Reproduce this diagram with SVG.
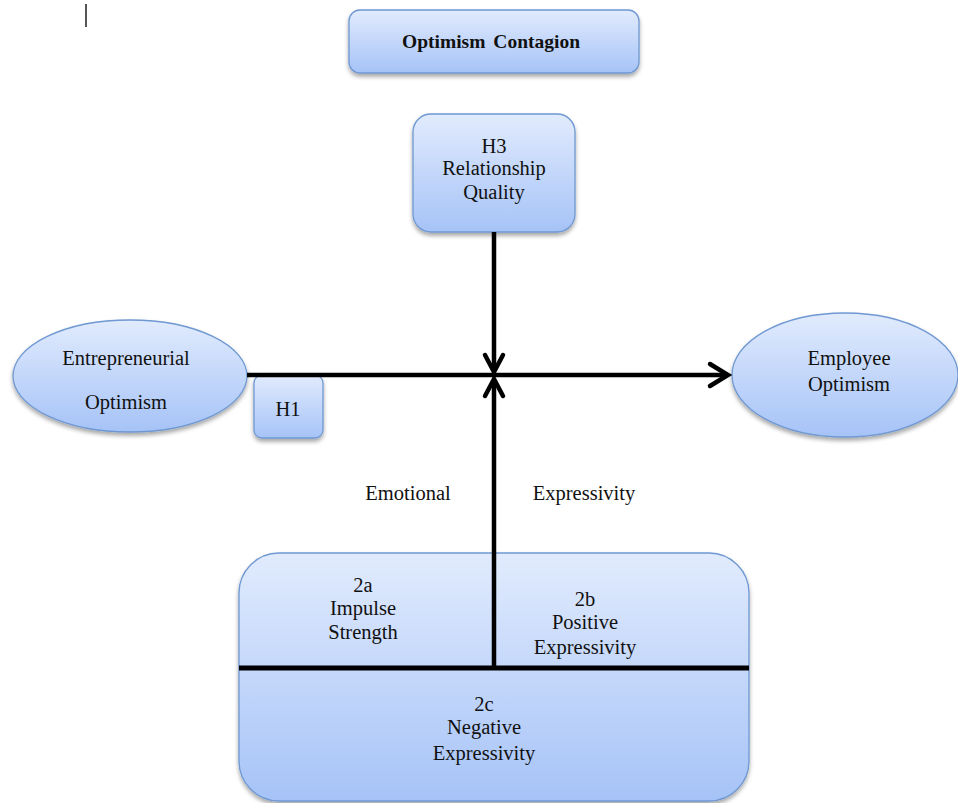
<svg xmlns="http://www.w3.org/2000/svg" width="958" height="803" viewBox="0 0 958 803">
<defs>
<linearGradient id="g" x1="0" y1="0" x2="0" y2="1">
<stop offset="0" stop-color="#e1ebfd"/>
<stop offset="1" stop-color="#a6c3f7"/>
</linearGradient>
<filter id="sh" x="-10%" y="-10%" width="120%" height="130%">
<feDropShadow dx="0" dy="3" stdDeviation="2" flood-color="#000" flood-opacity="0.35"/>
</filter>
</defs>
<style>
.n{fill:url(#g);stroke:#6f98d2;stroke-width:1.3;filter:url(#sh)}
text{font-family:'Liberation Serif','DejaVu Serif',serif;font-size:20.5px;fill:#111;text-anchor:middle}
.b{font-weight:bold;font-size:19.5px}
.c{fill:none;stroke:#000;stroke-width:4.5;stroke-linecap:butt;stroke-linejoin:miter}
.a{fill:none;stroke:#000;stroke-width:4.5;stroke-linecap:round;stroke-linejoin:miter}
</style>
<rect x="85" y="4" width="2" height="23" fill="#555"/>
<g id="title">
<rect class="n" x="349" y="10" width="290" height="63" rx="11"/>
<text class="b" x="491" y="48" word-spacing="3">Optimism Contagion</text>
</g>
<g id="h3">
<rect class="n" x="413" y="114" width="162" height="118" rx="18"/>
<text x="494" y="153">H3</text>
<text x="494" y="175">Relationship</text>
<text x="494" y="199">Quality</text>
</g>
<g id="entrepreneurial">
<ellipse class="n" cx="130" cy="376" rx="117" ry="56"/>
<text x="126" y="365">Entrepreneurial</text>
<text x="126" y="409">Optimism</text>
</g>
<g id="h1">
<rect class="n" x="254" y="375" width="69" height="63" rx="8"/>
<text x="288" y="416">H1</text>
</g>
<g id="employee">
<ellipse class="n" cx="845" cy="375" rx="113" ry="62"/>
<text x="849" y="365">Employee</text>
<text x="849" y="391">Optimism</text>
</g>
<g id="expressivity">
<rect class="n" x="239" y="553" width="510" height="248" rx="40"/>
<text x="363" y="592">2a</text>
<text x="363" y="615">Impulse</text>
<text x="363" y="639">Strength</text>
<text x="585" y="606">2b</text>
<text x="585" y="629">Positive</text>
<text x="585" y="654">Expressivity</text>
<text x="484" y="711">2c</text>
<text x="484" y="734">Negative</text>
<text x="484" y="760">Expressivity</text>
<line x1="239" y1="668" x2="749" y2="668" stroke="#000" stroke-width="5"/>
</g>
<g id="labels">
<text x="408" y="500">Emotional</text>
<text x="584" y="500">Expressivity</text>
</g>
<g id="connectors">
<line class="c" x1="247" y1="375" x2="727" y2="375"/>
<path class="a" d="M710 364 L728 375 L710 386"/>
<line class="c" x1="494" y1="232" x2="494" y2="371"/>
<path class="a" d="M485 355 L494 372 L503 355"/>
<line class="c" x1="494" y1="668" x2="494" y2="380"/>
<path class="a" d="M485 396 L494 379 L503 396"/>
</g>
</svg>
